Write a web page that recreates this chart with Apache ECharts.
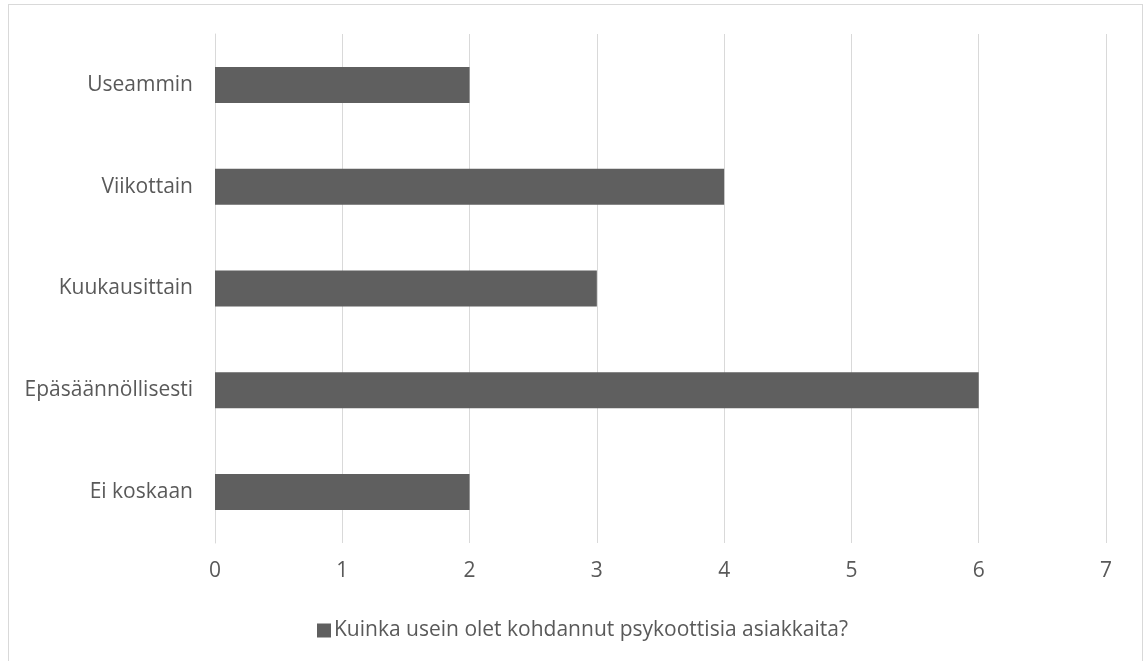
<!DOCTYPE html>
<html>
<head>
<meta charset="utf-8">
<script src="https://cdn.jsdelivr.net/npm/echarts@6/dist/echarts.min.js"></script>
<style>
  html,body{margin:0;padding:0;background:#fff}
  #chart{position:absolute;left:0;top:0;width:1143px;height:661px}
  #frame{position:absolute;left:8px;top:4px;width:1133px;height:700px;border:1px solid #d9d9d9;pointer-events:none}
</style>
</head>
<body>
<div id="chart"></div>
<div id="frame"></div>
<script>
// categories listed bottom to top (ECharts category axis starts at the bottom)
var categories = ['Ei koskaan', 'Epäsäännöllisesti', 'Kuukausittain', 'Viikottain', 'Useammin'];
var counts = [2, 6, 3, 4, 2];
var seriesName = 'Kuinka usein olet kohdannut psykoottisia asiakkaita?';

var textColor = '#595959';
var fontFam = '"Open Sans", "Liberation Sans", sans-serif';

var chart = echarts.init(document.getElementById('chart'));
chart.setOption({
  animation: false,
  textStyle: { fontFamily: fontFam },
  grid: { left: 215, right: 37, top: 34, height: 509, containLabel: false },
  legend: {
    top: 615,
    left: 312,
    itemWidth: 14, itemHeight: 14, itemGap: 4, icon: 'rect',
    textStyle: { color: textColor, fontSize: 21, fontFamily: fontFam, padding: [0, 0, 0, -2] },
    data: [seriesName]
  },
  xAxis: {
    type: 'value', min: 0, max: 7, interval: 1,
    axisLine: { show: false }, axisTick: { show: false },
    splitLine: { lineStyle: { color: '#d9d9d9', width: 1 } },
    axisLabel: { color: textColor, fontSize: 21, margin: 18 }
  },
  yAxis: {
    type: 'category', data: categories,
    axisLine: { show: true, lineStyle: { color: '#d9d9d9' } },
    axisTick: { show: false },
    axisLabel: { color: textColor, fontSize: 21, margin: 22 }
  },
  series: [{
    name: seriesName, type: 'bar', data: counts,
    barWidth: 36,
    itemStyle: { color: '#5f5f5f' }
  }]
});
</script>
</body>
</html>
